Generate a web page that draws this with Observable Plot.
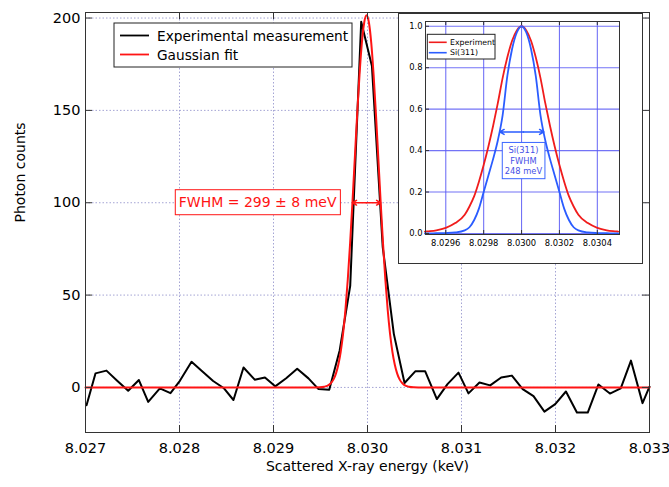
<!DOCTYPE html>
<html><head><meta charset="utf-8">
<script src="https://cdn.jsdelivr.net/npm/d3@7"></script>
<script src="https://cdn.jsdelivr.net/npm/@observablehq/plot@0.6"></script>
<style>
body{margin:0;background:#fff;}
#wrap{position:relative;width:669px;height:487px;overflow:hidden;background:#fff;}
#main{position:absolute;left:0;top:0;}
#inset{position:absolute;left:398px;top:13px;width:245px;height:251px;background:#fff;border:1px solid #333;box-sizing:border-box;}
#inset svg{position:absolute;left:0;top:0;}
</style></head><body>
<div id="wrap"><div id="main"></div><div id="inset"></div></div>
<script>
// ---- main chart data ----
const energy = [8.027011,8.027106,8.027223,8.027337,8.027454,8.027568,8.027667,8.027791,8.027904,8.028004,
  8.028128,8.028241,8.028358,8.028469,8.028574,8.028681,8.028800,8.028909,8.029018,8.029135,
  8.029252,8.029372,8.029479,8.029593,8.029704,8.029816,8.029933,8.030047,8.030162,8.030280,
  8.030394,8.030508,8.030614,8.030738,8.030851,8.030968,8.031074,8.031191,8.031305,8.031422,
  8.031536,8.031651,8.031766,8.031882,8.031997,8.032111,8.032228,8.032343,8.032457,8.032579,
  8.032694,8.032803,8.032926,8.033000];
const counts = [-9.6,7.6,9.1,3.6,-1.8,4.0,-7.8,-0.5,-3.1,3.6,
  13.9,8.8,3.5,-0.3,-6.8,10.8,4.2,5.4,0.6,5.0,
  10.1,4.9,-0.9,-1.2,20,55,198,174,76,29,
  2.4,8.7,8.7,-6.3,1.8,8.0,-3.2,2.7,1.1,5.4,
  6.4,-0.9,-4.7,-13.1,-9.0,-2.2,-13.6,-13.6,1.6,-3.3,
  -0.5,14.5,-8.5,0.4];
const fitEnergy = [8.027,8.02939,8.02949,8.02954,8.02959,8.029615,8.02964,8.029665,8.02969,8.029715,8.02974,
  8.029765,8.02979,8.029815,8.02984,8.029865,8.02989,8.029915,8.02994,8.029965,8.02999,
  8.030015,8.03004,8.030065,8.03009,8.030115,8.03014,8.030165,8.03019,8.030215,8.03024,
  8.030265,8.03029,8.030315,8.03034,8.030365,8.03039,8.03044,8.03049,8.03059,8.033];
const fitCounts = [0,0,0.1,0.4,1.4,2.6,4.5,7.6,12.4,19.3,29.0,
  41.9,58.3,78.0,100.3,124.1,147.8,169.2,186.5,197.6,201.5,
  197.6,186.5,169.2,147.8,124.1,100.3,78.0,58.3,41.9,29.0,
  19.3,12.4,7.6,4.5,2.6,1.4,0.4,0.1,0,0];
const xTicks = [8.027,8.028,8.029,8.030,8.031,8.032,8.033];
const yTicks = [0,50,100,150,200];
const seriesNames = ["Experimental measurement","Gaussian fit"];
const seriesColors = ["#000000","#ff1414"];
const fwhmText = "FWHM = 299 ± 8 meV";
const fwhmCenter = 8.02999, fwhmLeft = 8.02984, fwhmRight = 8.03014, fwhmLevel = 100;
const xTitle = "Scattered X-ray energy (keV)";
const yTitle = "Photon counts";

// ---- inset data ----
const insetEnergy = [8.02949,8.0295,8.02955,8.0296,8.02965,8.0297,8.029725,8.02975,8.029775,8.0298,
  8.029825,8.02985,8.029875,8.0299,8.029925,8.02995,8.029975,8.0300,
  8.030025,8.03005,8.030075,8.0301,8.030125,8.03015,8.030175,8.0302,8.030225,8.03025,
  8.030275,8.0303,8.03035,8.0304,8.03045,8.0305,8.03051];
const experimentNorm = [0.009,0.01,0.015,0.027,0.05,0.09,0.13,0.18,0.25,0.33,
  0.42,0.52,0.63,0.75,0.85,0.93,0.98,1.0,
  0.98,0.93,0.85,0.75,0.63,0.52,0.42,0.33,0.25,0.18,
  0.13,0.09,0.05,0.027,0.015,0.01,0.009];
const si311Norm = [0,0,0.001,0.002,0.005,0.015,0.03,0.065,0.12,0.2,
  0.28,0.36,0.45,0.57,0.76,0.89,0.97,1.0,
  0.97,0.89,0.76,0.57,0.45,0.36,0.28,0.2,0.12,0.065,
  0.03,0.015,0.005,0.002,0.001,0,0];
const insetXTicks = [8.0296,8.0298,8.0300,8.0302,8.0304];
const insetYTicks = [0,0.2,0.4,0.6,0.8,1.0];
const insetNames = ["Experiment","Si(311)"];
const insetColors = ["#f01c1c","#2a5cff"];
const siLines = ["Si(311)","FWHM","248 meV"];
const siCenter = 8.03001, siLeft = 8.029885, siRight = 8.030118, siLevel = 0.49, siTextLevel = 0.353;

const FONT = "DejaVu Sans, sans-serif";
const NS = "http://www.w3.org/2000/svg";

function el(tag, attrs, parent) {
  const e = document.createElementNS(NS, tag);
  for (const k in attrs) e.setAttribute(k, attrs[k]);
  if (parent) parent.appendChild(e);
  return e;
}
function boxAround(svg, content, padX, padY, stroke) {
  const t = Array.from(svg.querySelectorAll("text")).find(n => n.textContent === content);
  if (!t) return;
  const b = t.getBBox();
  const r = el("rect", {x: b.x - padX, y: b.y - padY, width: b.width + 2*padX, height: b.height + 2*padY,
    fill: "white", stroke, "stroke-width": 1});
  if (t.getAttribute("transform")) r.setAttribute("transform", t.getAttribute("transform"));
  t.parentNode.insertBefore(r, t);
}
function legend(svg, box, items, colors, o) {
  const g = el("g", {"text-anchor": "start"}, svg);
  el("rect", {x: box[0], y: box[1], width: box[2], height: box[3], fill: "white", stroke: "#222", "stroke-width": 1}, g);
  items.forEach((name, i) => {
    const y = o.y0 + i*o.dy;
    el("line", {x1: o.lx1, x2: o.lx2, y1: y, y2: y, stroke: colors[i], "stroke-width": o.sw}, g);
    const t = el("text", {x: o.tx, y, "text-anchor": "start", "dominant-baseline": "central", "font-size": o.fs, "font-family": FONT, fill: "#000"}, g);
    t.textContent = name;
  });
}

// ---- main chart ----
const W = 669, H = 487, mL = 85, mR = 20, mT = 12, mB = 55;
const pw = W - mL - mR, ph = H - mT - mB;
const mainData = energy.map((e, i) => ({e, c: counts[i]}));
const fitData = fitEnergy.map((e, i) => ({e, c: fitCounts[i]}));
const gridStyle = {stroke: "#a4a4d4", strokeDasharray: "1.5,2", strokeWidth: 1};

const chart = Plot.plot({
  width: W, height: H, marginLeft: mL, marginRight: mR, marginTop: mT, marginBottom: mB,
  style: {fontFamily: FONT, fontSize: "14.5px", color: "#000", background: "white"},
  x: {domain: [8.027, 8.033], ticks: xTicks, tickFormat: d3.format(".3f"), tickSize: 0, tickPadding: 10, label: null},
  y: {domain: [-24.4, 203], ticks: yTicks, tickSize: 0, tickPadding: 5, label: null},
  marks: [
    Plot.ruleX(xTicks, {x: d => d, ...gridStyle}),
    Plot.ruleY(yTicks, {y: d => d, ...gridStyle}),
    Plot.line(mainData, {x: "e", y: "c", stroke: seriesColors[0], strokeWidth: 2}),
    Plot.line(fitData, {x: "e", y: "c", stroke: seriesColors[1], strokeWidth: 2, curve: "monotone-x"}),
    Plot.arrow([0, 1], {x1: () => fwhmCenter, y1: () => fwhmLevel, x2: (d) => d ? fwhmRight : fwhmLeft, y2: () => fwhmLevel,
      stroke: seriesColors[1], strokeWidth: 1.5, headLength: 7}),
    Plot.text([fwhmText], {x: () => fwhmLeft, y: () => fwhmLevel, text: d => d, textAnchor: "end", dx: -16,
      fill: seriesColors[1], fontSize: 14}),
    Plot.tickX(xTicks, {x: d => d, insetTop: ph - 7, stroke: "#333"}),
    Plot.tickX(xTicks, {x: d => d, insetBottom: ph - 7, stroke: "#333"}),
    Plot.tickY(yTicks, {y: d => d, insetRight: pw - 7, stroke: "#333"}),
    Plot.tickY(yTicks, {y: d => d, insetLeft: pw - 7, stroke: "#333"}),
    Plot.frame({stroke: "#333", strokeWidth: 1}),
    Plot.text([xTitle], {text: d => d, frameAnchor: "bottom", dy: 38, fontSize: 14}),
    Plot.text([yTitle], {text: d => d, frameAnchor: "left", dx: -65, rotate: -90, fontSize: 14})
  ]
});
document.getElementById("main").appendChild(chart);
boxAround(chart, fwhmText, 3.5, 4.5, seriesColors[1]);
legend(chart, [114, 23, 238, 44], seriesNames, seriesColors,
  {y0: 35.5, dy: 19, lx1: 120, lx2: 149, tx: 157, fs: 13.7, sw: 1.8});

// ---- inset chart ----
const iW = 243, iH = 249, imL = 26, imR = 23, imT = 7, imB = 29;
const ipw = iW - imL - imR, iph = iH - imT - imB;
const expData = insetEnergy.map((e, i) => ({e, v: experimentNorm[i]}));
const siData = insetEnergy.map((e, i) => ({e, v: si311Norm[i]}));
const iGrid = {stroke: "#5a5af5", strokeWidth: 1.1, strokeOpacity: 0.85};
const insetChart = Plot.plot({
  width: iW, height: iH, marginLeft: imL, marginRight: imR, marginTop: imT, marginBottom: imB,
  style: {fontFamily: FONT, fontSize: "8.4px", color: "#000", background: "white"},
  x: {domain: [8.029493, 8.030517], ticks: insetXTicks, tickFormat: d3.format(".4f"), tickSize: 0, tickPadding: 6, label: null},
  y: {domain: [-0.005, 1.023], ticks: insetYTicks, tickFormat: d3.format(".1f"), tickSize: 0, tickPadding: 3, label: null},
  marks: [
    Plot.ruleX(insetXTicks, {x: d => d, ...iGrid}),
    Plot.ruleY(insetYTicks, {y: d => d, ...iGrid}),
    Plot.line(expData, {x: "e", y: "v", stroke: insetColors[0], strokeWidth: 1.8, curve: "monotone-x"}),
    Plot.line(siData, {x: "e", y: "v", stroke: insetColors[1], strokeWidth: 1.8, curve: "monotone-x"}),
    Plot.arrow([0, 1], {x1: () => siCenter, y1: () => siLevel, x2: (d) => d ? siRight : siLeft, y2: () => siLevel,
      stroke: insetColors[1], strokeWidth: 1.5, headLength: 5}),
    Plot.text([siLines.join("\n")], {x: () => siCenter, y: () => siTextLevel, text: d => d, fill: "#4650e6", fontSize: 8.3,
      lineHeight: 1.22}),
    Plot.tickX(insetXTicks, {x: d => d, insetTop: iph - 4, stroke: "#333"}),
    Plot.tickX(insetXTicks, {x: d => d, insetBottom: iph - 4, stroke: "#333"}),
    Plot.tickY(insetYTicks, {y: d => d, insetRight: ipw - 4, stroke: "#333"}),
    Plot.frame({stroke: "#333", strokeWidth: 1})
  ]
});
document.getElementById("inset").appendChild(insetChart);
boxAround(insetChart, siLines.join(""), 2.5, 3, "#3a66ff");
legend(insetChart, [28.3, 20.3, 67.7, 24.7], insetNames, insetColors,
  {y0: 28.3, dy: 10.4, lx1: 29.8, lx2: 47.7, tx: 51, fs: 7.8, sw: 1.6});
</script>
</body></html>
